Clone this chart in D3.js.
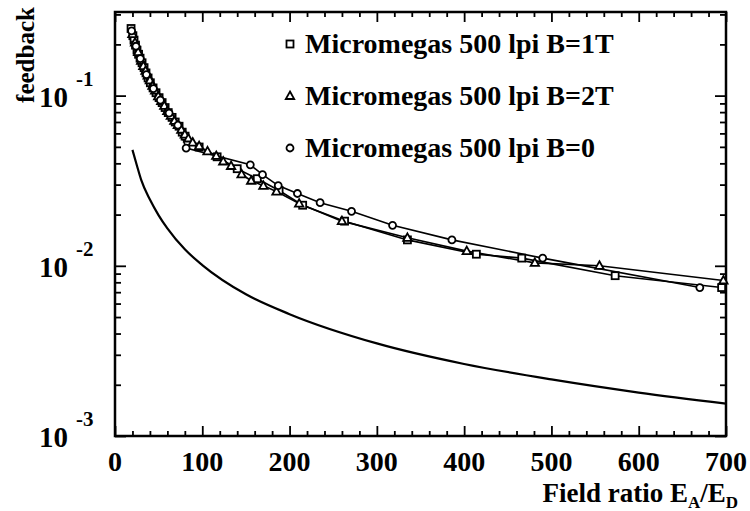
<!DOCTYPE html>
<html>
<head>
<meta charset="utf-8">
<script src="https://cdn.jsdelivr.net/npm/d3@7"></script>
<style>
	body { margin: 0; background: #fff; }
</style>
</head>
<body>
<script>
"use strict";

// measured series (field ratio, feedback)
var b1T = [[18.4,0.248],[20.5,0.225],[21.8,0.212],[23.5,0.198],[25.2,0.185],[27,0.175],[28.7,0.166],[31,0.156],[33.3,0.146],[35.5,0.136],[37.9,0.127],[40.5,0.119],[43.6,0.111],[47,0.104],[50.5,0.0973],[54,0.091],[57.4,0.0851],[61,0.0795],[65.4,0.0745],[69,0.070],[73.4,0.0661],[77,0.061],[80.3,0.0578],[96.4,0.0499],[117,0.0437],[140,0.0372],[163,0.0325],[188,0.0277],[215,0.0227],[263,0.0183],[335,0.0142],[414,0.0117],[466,0.0111],[573,0.00875],[695,0.00745]];
var b2T = [[20,0.23],[23,0.205],[26.5,0.18],[30,0.16],[32.5,0.149],[35,0.14],[37.5,0.131],[40,0.123],[43,0.114],[46,0.107],[49.5,0.099],[53,0.093],[56.5,0.087],[60,0.081],[64,0.076],[68,0.071],[72,0.067],[76,0.063],[80,0.059],[84,0.056],[89,0.053],[96.4,0.0505],[106,0.047],[116,0.0442],[124,0.041],[133,0.0386],[145,0.0345],[156,0.0316],[170,0.0295],[185,0.0273],[211,0.0232],[260,0.0183],[335,0.0146],[403,0.0122],[481,0.0104],[555,0.0100],[697,0.0082]];
var b0 = [[19,0.24],[24,0.195],[29,0.165],[36,0.133],[44,0.11],[52,0.094],[62,0.079],[72,0.067],[81.5,0.0492],[155,0.0392],[169,0.0343],[187,0.0296],[209,0.0266],[235,0.0235],[271,0.0209],[318,0.0173],[386,0.0142],[490,0.0111],[670,0.00745]];
// calculated curve
var calcX = [20,25,30,40,50,60,80,100,150,200,300,400,500,600,700];
var calcY = [0.048,0.039,0.032,0.0245,0.0198,0.0166,0.0125,0.0101,0.0068,0.0052,0.0035,0.00265,0.00215,0.0018,0.00155];

var legendLabels = ["Micromegas 500 lpi B=1T", "Micromegas 500 lpi B=2T", "Micromegas 500 lpi B=0"];
var xMajor = [0,100,200,300,400,500,600,700];
var yMajor = [1e-3,1e-2,1e-1];
var yExp = ["-3","-2","-1"];

var W = 750, H = 511;
var pL = 115, pR = 726, pT = 12, pB = 436;

var svg = d3.select("body").append("svg")
	.attr("width", W)
	.attr("height", H);

// little helper so every text gets the same serif face
function txt(sel, size) {
	return sel.append("text")
		.style("font-family", "Liberation Serif")
		.style("font-weight", "700")
		.style("font-size", size + "px")
		.attr("fill", "#000");
}

var x = d3.scaleLinear().domain([0, 700]).range([pL, pR]);
var y = d3.scaleLog().domain([1e-3, 0.31]).range([pB, pT]);

var xMinor = d3.range(20, 700, 20).filter(function(v) { return v % 100 !== 0; });
var yMinor = [];
[1e-3,1e-2,1e-1].forEach(function(d) {
	for (var k = 2; k <= 9; k++) {
		if (k * d <= 0.31) yMinor.push(k * d);
	}
});

// ticks, all pointing in
function ticks(axis, vals, size, tr) {
	svg.append("g")
		.attr("transform", tr)
		.call(axis.tickValues(vals).tickSize(size).tickFormat(""))
		.call(function(g) {
			g.select(".domain").remove();
			g.selectAll("line").attr("stroke", "#000").attr("stroke-width", 1.8);
		});
}
ticks(d3.axisBottom(x), xMajor, -10, "translate(0," + pB + ")");
ticks(d3.axisBottom(x), xMinor, -5, "translate(0," + pB + ")");
ticks(d3.axisTop(x), xMajor, -10, "translate(0," + pT + ")");
ticks(d3.axisTop(x), xMinor, -5, "translate(0," + pT + ")");
ticks(d3.axisLeft(y), yMajor, -11, "translate(" + pL + ",0)");
ticks(d3.axisLeft(y), yMinor, -6, "translate(" + pL + ",0)");
ticks(d3.axisRight(y), yMajor, -11, "translate(" + pR + ",0)");
ticks(d3.axisRight(y), yMinor, -6, "translate(" + pR + ",0)");

// frame
svg.append("rect")
	.attr("x", pL).attr("y", pT)
	.attr("width", pR - pL).attr("height", pB - pT)
	.attr("fill", "none").attr("stroke", "#000").attr("stroke-width", 2.5);

// tick labels
xMajor.forEach(function(d) {
	txt(svg, 28)
		.attr("x", x(d))
		.attr("y", 471)
		.attr("text-anchor", "middle")
		.text(d);
});

yMajor.forEach(function(d, i) {
	txt(svg, 29)
		.attr("x", 68).attr("y", y(d) + 11)
		.attr("text-anchor", "end")
		.text("10");
	txt(svg, 21)
		.attr("x", 76).attr("y", y(d) - 10)
		.text(yExp[i]);
});

// axis titles
txt(svg, 25)
	.attr("transform", "translate(34,55) rotate(-90)")
	.attr("text-anchor", "middle")
	.text("feedback");

var xt = txt(svg, 27)
	.attr("x", 738).attr("y", 502)
	.attr("text-anchor", "end");
xt.append("tspan").text("Field ratio E");
xt.append("tspan").attr("dy", 6).style("font-size", "17px").text("A");
xt.append("tspan").attr("dy", -6).text("/E");
xt.append("tspan").attr("dy", 6).style("font-size", "17px").text("D");

// lines
var line = d3.line()
	.x(function(d) { return x(d[0]); })
	.y(function(d) { return y(d[1]); });

[b1T, b2T, b0].forEach(function(s) {
	svg.append("path")
		.attr("d", line(s))
		.attr("fill", "none")
		.attr("stroke", "#000")
		.attr("stroke-width", 1.6);
});

svg.append("path")
	.attr("d", d3.line().curve(d3.curveMonotoneX)
		.x(function(d, i) { return x(calcX[i]); })
		.y(function(d) { return y(d); })(calcY))
	.attr("fill", "none")
	.attr("stroke", "#000")
	.attr("stroke-width", 2.2);

// markers
function marker(sel, type) {
	if (type === 0) {
		sel.append("rect").attr("x", -3.5).attr("y", -3.5).attr("width", 7).attr("height", 7);
	} else if (type === 1) {
		sel.append("path").attr("d", "M0,-4.5L4.2,3L-4.2,3Z");
	} else {
		sel.append("circle").attr("r", 3.5);
	}
	sel.selectAll("rect,path,circle")
		.attr("fill", "#fff")
		.attr("stroke", "#000")
		.attr("stroke-width", 1.8);
}

[b1T, b2T, b0].forEach(function(s, t) {
	svg.selectAll(".m" + t).data(s).enter().append("g")
		.attr("class", "m" + t)
		.attr("transform", function(d) { return "translate(" + x(d[0]) + "," + y(d[1]) + ")"; })
		.each(function() { marker(d3.select(this), t); });
});

// legend
var legY = [44, 96, 148];
legendLabels.forEach(function(lab, i) {
	var g = svg.append("g").attr("transform", "translate(290," + legY[i] + ")");
	marker(g, i);
	txt(g, 28)
		.attr("x", 15).attr("y", 9)
		.text(lab);
});
</script>
</body>
</html>
